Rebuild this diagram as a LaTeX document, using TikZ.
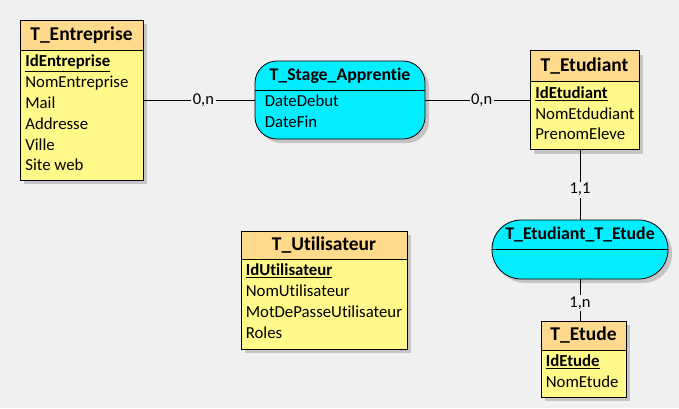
\documentclass[tikz,border=0pt]{standalone}
\usepackage{fontspec}
\setmainfont{Carlito}[RawFeature={-liga,-clig,-dlig}]
\usepackage{tikz}
\usetikzlibrary{positioning,shadows}

\definecolor{bg}{HTML}{F0F0F0}
\definecolor{headorange}{HTML}{FFD98C}
\definecolor{bodyyellow}{HTML}{FFF98A}
\definecolor{assoccyan}{HTML}{00EEFF}
\definecolor{shadowgray}{HTML}{C4C4C4}

\begin{document}
\begin{tikzpicture}[x=1pt, y=-1pt, node distance=0pt]
  \tikzstyle{entbox} = [rectangle, draw, fill=bodyyellow, line width=0.8pt, drop shadow={shadow xshift=4pt, shadow yshift=-4pt, fill=shadowgray, opacity=1}]
  \tikzstyle{enthead} = [rectangle, draw, fill=headorange, line width=0.8pt, inner sep=0pt, font=\fontsize{19.5}{22}\selectfont\bfseries]
  \tikzstyle{assoc} = [rectangle, draw, fill=assoccyan, line width=0.8pt, drop shadow={shadow xshift=4pt, shadow yshift=-4pt, fill=shadowgray, opacity=1}]
  \tikzstyle{assochead} = [inner sep=0pt, font=\fontsize{17.8}{20}\selectfont\bfseries]
  \tikzstyle{attr} = [inner sep=0pt, align=left, font=\fontsize{16.8}{20.8}\selectfont]
  \tikzstyle{card} = [fill=bg, inner sep=1.5pt, font=\fontsize{16.5}{18}\selectfont]
  \tikzstyle{link} = [draw, line width=0.8pt]

  \fill[bg] (0,0) rectangle (679,408);

  % entities
  \node[entbox, minimum width=123pt, minimum height=160pt] (ent) at (81.5,100) {};
  \node[enthead, minimum width=123pt, minimum height=30pt, below=of ent.north] (entT) {T\_Entreprise};
  \node[attr, below right=4.5pt and 5.5pt of entT.south west] (entA) {\underline{\textbf{IdEntreprise}}\\NomEntreprise\\Mail\\Addresse\\Ville\\Site web};

  \node[entbox, minimum width=109pt, minimum height=99pt] (etu) at (584.5,100) {};
  \node[enthead, minimum width=109pt, minimum height=31pt, below=of etu.north] (etuT) {T\_Etudiant};
  \node[attr, below right=4.5pt and 5.5pt of etuT.south west] (etuA) {\underline{\textbf{IdEtudiant}}\\NomEtdudiant\\PrenomEleve};

  \node[entbox, minimum width=166pt, minimum height=118pt] (util) at (324,290) {};
  \node[enthead, minimum width=166pt, minimum height=28pt, below=of util.north] (utilT) {T\_Utilisateur};
  \node[attr, below right=4.5pt and 5pt of utilT.south west] (utilA) {\underline{\textbf{IdUtilisateur}}\\NomUtilisateur\\MotDePasseUtilisateur\\Roles};

  \node[entbox, minimum width=85pt, minimum height=76pt] (etude) at (583.5,359) {};
  \node[enthead, minimum width=85pt, minimum height=29pt, below=of etude.north] (etudeT) {T\_Etude};
  \node[attr, below right=4.5pt and 5pt of etudeT.south west] (etudeA) {\underline{\textbf{IdEtude}}\\NomEtude};

  % associations
  \node[assoc, rounded corners=22pt, minimum width=170pt, minimum height=78pt] (stage) at (340,100) {};
  \draw[line width=0.8pt] ([yshift=-30pt]stage.north west) coordinate (stageL) -- ([yshift=-30pt]stage.north east);
  \node[assochead, minimum height=30pt, below=of stage.north] (stageT) {T\_Stage\_Apprentie};
  \node[attr, below right=4.5pt and 10pt of stageL] (stageA) {DateDebut\\DateFin};

  \node[assoc, rounded corners=29pt, minimum width=176pt, minimum height=59pt] (etet) at (580,249.5) {};
  \draw[line width=0.8pt] (etet.west) -- (etet.east);
  \node[assochead, minimum height=29.5pt, below=of etet.north] (etetT) {T\_Etudiant\_T\_Etude};

  % links
  \draw[link] (ent.east) -- node[card, pos=.54] {0,n} (stage.west);
  \draw[link] (stage.east) -- node[card, pos=.54] {0,n} (etu.west);
  \draw[link] (etet.north |- etu.south) -- node[card, pos=.57] {1,1} (etet.north);
  \draw[link] (etet.south) -- node[card, pos=.57] {1,n} (etet.south |- etude.north);

\end{tikzpicture}
\end{document}
